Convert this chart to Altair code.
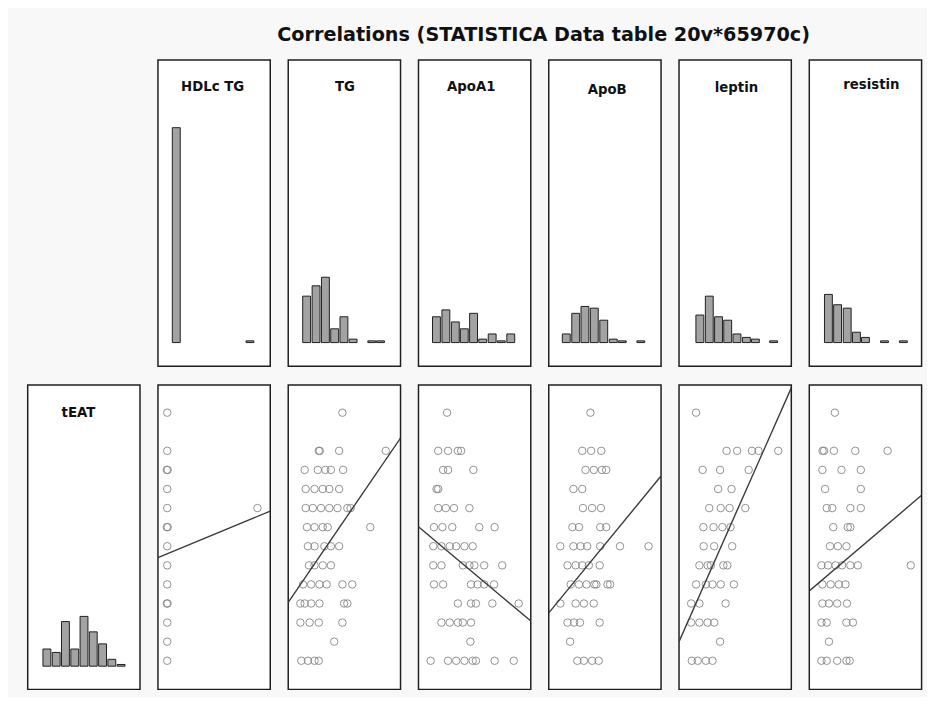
import altair as alt
import pandas as pd

TITLE = "Correlations (STATISTICA Data table 20v*65970c)"
col_vars = ["HDLc TG", "TG", "ApoA1", "ApoB", "leptin", "resistin"]
row_var = "tEAT"

# tEAT value of each row of circles, top to bottom
teat_rows = [14, 12, 11, 10, 9, 8, 7, 6, 5, 4, 3, 2, 1]

# x values (relative units, panel spans 0..11.4) of the circles in each row
hdlc_x = [[0.94], [0.94], [0.9, 0.98], [0.94], [0.94, 10.1], [0.9, 0.98], [0.94],
          [0.94], [0.94], [0.9, 0.98], [0.94], [0.94], [0.94]]
tg_x = [[5.5], [3.1, 3.2, 5.17, 9.9], [1.67, 3.0, 3.77, 4.33, 5.57],
        [1.77, 2.67, 3.5, 4.17, 5.17], [1.77, 2.5, 3.33, 4.17, 5.0, 6.0, 6.33],
        [1.9, 2.67, 3.5, 4.0, 8.33], [2.0, 2.67, 3.67, 4.33, 5.17],
        [2.1, 2.67, 3.5, 4.33], [1.5, 2.33, 3.17, 3.9, 5.5, 6.5],
        [1.23, 1.67, 2.33, 3.17, 5.67, 6.0], [1.23, 2.17, 3.1, 5.5], [4.67],
        [1.33, 2.0, 2.67, 3.1]]
apoa1_x = [[2.9], [2.0, 3.0, 4.0, 4.33], [2.5, 3.0, 5.57], [1.83, 2.0],
           [2.0, 2.77, 3.6, 5.17], [1.57, 2.43, 3.43, 6.17, 7.73],
           [1.5, 2.33, 3.17, 3.83, 4.67, 5.5], [1.5, 2.33, 4.5, 5.17, 5.67, 6.67, 8.5],
           [1.57, 2.5, 5.33, 6.0, 6.67, 7.67], [4.0, 5.33, 5.83, 7.5, 10.17],
           [2.33, 3.17, 4.0, 4.5, 5.33], [5.27],
           [1.23, 3.0, 3.83, 4.67, 5.5, 5.83, 7.73, 9.67]]
apob_x = [[4.23], [3.4, 4.3, 5.33], [3.73, 4.57, 5.4, 5.83], [2.5, 3.4],
          [3.47, 4.4, 5.3], [2.4, 3.07, 5.23, 5.83],
          [1.17, 2.5, 3.23, 3.9, 5.23, 7.23, 10.13], [1.9, 2.73, 3.4, 4.07, 5.17],
          [2.23, 3.07, 3.83, 4.63, 4.83, 5.97, 6.23], [1.17, 2.73, 3.57, 4.57],
          [1.9, 2.57, 3.17, 5.17], [2.17], [2.9, 3.57, 4.4, 5.07]]
leptin_x = [[1.73], [4.83, 5.9, 7.4, 8.07, 10.07], [2.4, 4.17, 7.07], [3.97, 5.33],
            [3.07, 4.23, 5.13, 6.73], [2.47, 3.5, 4.4, 5.23], [2.5, 3.57, 5.4],
            [2.07, 2.9, 3.23, 4.5, 4.9], [1.73, 2.73, 3.4, 4.23, 5.57],
            [1.23, 2.07, 4.73], [1.23, 2.07, 2.9, 3.57], [4.17], [1.3, 1.9, 2.73, 3.4]]
resistin_x = [[2.6], [1.35, 1.5, 2.5, 4.67, 7.95], [1.33, 3.27, 5.23], [1.6, 5.23],
              [1.77, 2.33, 4.17, 5.23], [2.43, 3.9, 4.17], [2.1, 2.9, 3.77],
              [1.23, 1.9, 2.67, 3.33, 4.17, 4.93, 10.3], [1.33, 2.17, 3.0, 3.67],
              [1.33, 2.0, 2.83, 3.83], [1.23, 1.77, 3.77, 4.43], [2.0],
              [1.23, 1.77, 2.83, 3.77, 4.1]]
scatter_lists = [hdlc_x, tg_x, apoa1_x, apob_x, leptin_x, resistin_x]

# fitted line: tEAT at left (x=0) and right (x=11.4) edges of each panel
line_left = [6.40, 4.06, 8.02, 3.51, 2.0, 4.66]
line_right = [8.84, 12.67, 3.08, 10.68, 15.3, 9.67]

# histograms (bin centres, counts)
hdlc_bins = [1.49, 2.52, 3.54, 4.57, 5.59, 6.62, 7.64, 8.67, 9.69]
hdlc_counts = [125, 0, 0, 0, 0, 0, 0, 0, 1]
tg_bins = [1.5, 2.55, 3.59, 4.62, 5.65, 6.67, 7.7, 8.75, 9.72]
tg_counts = [27, 33, 38, 8, 15, 2, 0, 1, 1]
apoa1_bins = [1.45, 2.5, 3.55, 4.55, 5.58, 6.6, 7.65, 8.67, 9.72]
apoa1_counts = [15, 19, 12, 8, 17, 2, 5, 1, 5]
apob_bins = [1.4, 2.45, 3.48, 4.52, 5.57, 6.63, 7.63, 8.67, 9.7]
apob_counts = [5, 17, 21, 20, 13, 2, 1, 0, 1]
leptin_bins = [1.77, 2.82, 3.85, 4.87, 5.9, 6.95, 7.95, 8.97, 9.98]
leptin_counts = [16, 27, 15, 13, 5, 3, 2, 0, 1]
resistin_bins = [1.58, 2.6, 3.67, 4.7, 5.7, 6.73, 7.82, 8.79, 9.92]
resistin_counts = [28, 22, 20, 6, 3, 0, 1, 0, 1]
teat_bins = [1.72, 3.17, 4.61, 6.06, 7.5, 8.94, 10.39, 11.83, 13.28]
teat_counts = [10, 8, 26, 10, 29, 20, 13, 4, 1]
hist_bins = [hdlc_bins, tg_bins, apoa1_bins, apob_bins, leptin_bins, resistin_bins]
hist_counts = [hdlc_counts, tg_counts, apoa1_counts, apob_counts, leptin_counts, resistin_counts]

X_DOMAIN = [0, 11.4]
Y_DOMAIN = [-0.5, 15.45]
COUNT_TOP = [-13.8, 164.4]
COUNT_BOT = [-13.5, 163.8]

W, H_TOP, H_BOT = 114, 311, 309
FONT = "DejaVu Sans"
BAR_FILL = "#a3a3a3"
INK = "#1e1e1e"

# small label placement nudges (px) for the six column titles and tEAT
col_label_dx = [-1.5, 0.5, -3.5, 2.3, 1.3, 6]
col_label_y = [31.7, 31.7, 31.7, 34.5, 32.5, 29.5]
row_label_dx, row_label_y = -5.5, 32.7


def label_layer(name, dx, y):
    return alt.Chart(pd.DataFrame({"label": [name]})).mark_text(
        font=FONT, fontSize=13.5, fontWeight="bold", color="#111",
        baseline="alphabetic", align="center"
    ).encode(text="label:N", x=alt.value(W / 2 + dx), y=alt.value(y))


def hist_panel(name, bins, counts, xdom, ydom, h, dx, ly):
    df = pd.DataFrame({"bin": bins, "count": counts})
    bars = alt.Chart(df).transform_filter("datum.count > 0").mark_bar(
        size=8, fill=BAR_FILL, stroke=INK, strokeWidth=1
    ).encode(
        x=alt.X("bin:Q", scale=alt.Scale(domain=xdom, nice=False, zero=False), axis=None),
        y=alt.Y("count:Q", scale=alt.Scale(domain=ydom, nice=False, zero=False), axis=None),
        y2=alt.datum(0),
    )
    return alt.layer(bars, label_layer(name, dx, ly)).properties(width=W, height=h)


def scatter_panel(xs_by_row, yl, yr):
    rows = []
    for t, xs in zip(teat_rows, xs_by_row):
        for x in xs:
            rows.append({"x": x, "tEAT": t})
    pts_df = pd.DataFrame(rows)
    line_df = pd.DataFrame({"x": X_DOMAIN, "tEAT": [yl, yr]})
    xs = alt.Scale(domain=X_DOMAIN, nice=False, zero=False)
    ys = alt.Scale(domain=Y_DOMAIN, nice=False, zero=False)
    pts = alt.Chart(pts_df).mark_point(
        shape="circle", filled=False, size=58, stroke="#858585", strokeWidth=1, opacity=0.9
    ).encode(x=alt.X("x:Q", scale=xs, axis=None), y=alt.Y("tEAT:Q", scale=ys, axis=None))
    line = alt.Chart(line_df).mark_line(color="#3a3a3a", strokeWidth=1.4, clip=True).encode(
        x=alt.X("x:Q", scale=xs, axis=None), y=alt.Y("tEAT:Q", scale=ys, axis=None)
    )
    return alt.layer(pts, line).properties(width=W, height=H_BOT)


placeholder = alt.Chart(pd.DataFrame({"a": [0]})).mark_text(text="").encode(
    x=alt.value(0), y=alt.value(0)
).properties(width=W, height=H_TOP, view=alt.ViewBackground(stroke=None, fill=None))

top = [placeholder] + [
    hist_panel(n, b, c, X_DOMAIN, COUNT_TOP, H_TOP, dx, ly)
    for n, b, c, dx, ly in zip(col_vars, hist_bins, hist_counts, col_label_dx, col_label_y)
]
bottom = [hist_panel(row_var, teat_bins, teat_counts, Y_DOMAIN, COUNT_BOT, H_BOT,
                     row_label_dx, row_label_y)] + [
    scatter_panel(xl, a, b) for xl, a, b in zip(scatter_lists, line_left, line_right)
]

chart = alt.concat(
    *(top + bottom), columns=7, spacing={"row": 17, "column": 16.25},
    title=alt.TitleParams(TITLE, font=FONT, fontSize=19.5, fontWeight="bold",
                          anchor="middle", dx=70, offset=8.3, color="#111"),
).properties(
    padding={"left": 19, "top": 12.5, "right": 4, "bottom": 1},
    background="#f8f8f8",
).configure_view(stroke=INK, strokeWidth=1.5, fill="white")

chart.save("out.html", embed_options={"renderer": "svg", "actions": False})
